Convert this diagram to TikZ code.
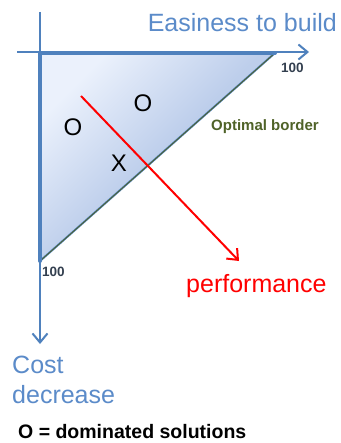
\documentclass[tikz,border=0pt]{standalone}
\usepackage{fontspec}
\setmainfont{Liberation Sans}
\usetikzlibrary{
    arrows.meta,  % For arrow tips
    positioning   % For label positioning
}
\definecolor{axisblue}{HTML}{4F81BD}
\definecolor{textblue}{HTML}{5B8BC9}
\definecolor{bordergreen}{HTML}{4F6228}
\definecolor{labelgray}{HTML}{333F4F}
\definecolor{filllight}{HTML}{EBF1FC}
\definecolor{filldark}{HTML}{BDCEEB}

\begin{document}
\begin{tikzpicture}[
    x=1pt, y=-1pt, % work in pixels of the reference, y pointing down
    >={Straight Barb[length=9pt, width=15pt]}, % open arrow tip
    axis/.style={->, axisblue, line width=2pt}, % Style for axes
    edge/.style={axisblue, line width=4pt},     % Thick triangle sides
    border/.style={bordergreen, line width=0.8pt},% Optimal border line
    perf/.style={->, red, line width=2pt},      % Performance arrow
    bigtext/.style={font=\fontsize{25}{30}\selectfont, inner sep=0pt},
    solmark/.style={font=\fontsize{24}{28}\selectfont, inner sep=0pt},
    ticklabel/.style={font=\fontsize{13.5}{15}\selectfont\bfseries, labelgray, inner sep=0pt}
]
    \useasboundingbox (0,0) rectangle (340,443);

    % Corners of the feasible triangle
    \coordinate (O)  at (40, 53);  % origin
    \coordinate (E)  at (275, 53); % easiness = 100
    \coordinate (C)  at (40, 261); % cost = 100

    % Axis end points
    \coordinate (xstart) at (17, 52);
    \coordinate (xend)   at (309, 52);
    \coordinate (ystart) at (40, 12);
    \coordinate (yend)   at (40, 344);

    % Shaded region (light corner, darker towards the border)
    \shade[bottom color=filllight, top color=filldark, middle color=filldark, shading angle=225]
        (O) -- (E) -- (C) -- cycle;

    % Axes
    \draw[axis] (xstart) -- (xend);
    \draw[axis] (ystart) -- (yend);

    % Triangle sides
    \draw[axisblue, line width=2pt] (E) -- (C);
    \draw[border] (E) -- (C);
    \draw[edge, line cap=round] (E) -- (O) -- (C);

    % Axis labels
    \node[bigtext, textblue, anchor=base east] (easy) at (337, 32) {Easiness to build};
    \node[bigtext, textblue, anchor=base west, align=left] (cost) at (12, 403)
        {Cost\\decrease};

    % Tick labels
    \node[ticklabel, anchor=north west] (t100e) at (281, 63) {100};
    \node[ticklabel, anchor=north west] (t100c) at (42, 267) {100};

    % Solutions
    \node[solmark] (o1) at (73, 127) {O};
    \node[solmark] (o2) at (143, 103) {O};
    \node[solmark] (x1) at (119, 163) {X};

    \node[font=\fontsize{15}{18}\selectfont\bfseries, bordergreen, inner sep=0pt] (opt) at (265, 127) {Optimal border};

    % Performance direction
    \coordinate (pstart) at (81, 96);
    \coordinate (pend)   at (239, 261);
    \draw[perf] (pstart) -- (pend);
    \node[bigtext, red, anchor=base west] (perfl) at (186, 292) {performance};

    % Legend
    \node[font=\fontsize{19.5}{22}\selectfont\bfseries, anchor=base west, inner sep=0pt] (legend) at (18, 438)
        {O = dominated solutions};

\end{tikzpicture}
\end{document}
